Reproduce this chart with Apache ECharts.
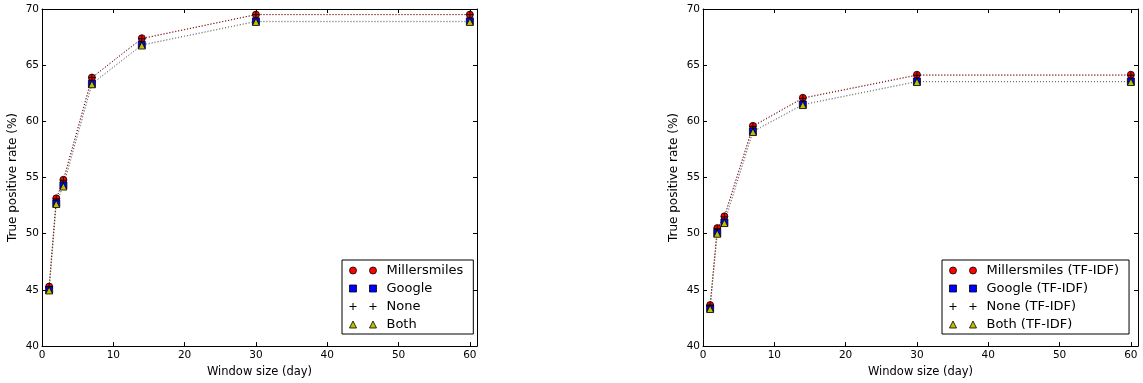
<!DOCTYPE html>
<html>
<head>
<meta charset="utf-8">
<script src="https://cdn.jsdelivr.net/npm/echarts@6/dist/echarts.min.js"></script>
<style>
  html, body { margin: 0; padding: 0; background: #fff; }
  #chart { width: 1143px; height: 383px; }
</style>
</head>
<body>
<div id="chart"></div>
<script>
// window sizes (days)
const windowDays = [1, 2, 3, 7, 14, 30, 60];
const xTicks = [0, 10, 20, 30, 40, 50, 60];

// left panel
const millersmiles = [45.3, 53.15, 54.8, 63.9, 67.4, 69.5, 69.5];
const google = [45.0, 52.7, 54.3, 63.35, 66.8, 68.9, 68.9];
const none = [45.3, 53.1, 54.75, 63.9, 67.35, 69.5, 69.5];
const both = [44.95, 52.65, 54.2, 63.3, 66.75, 68.85, 68.85];

// right panel (TF-IDF)
const millersmilesTfidf = [43.65, 50.5, 51.55, 59.6, 62.1, 64.15, 64.15];
const googleTfidf = [43.35, 50.05, 51.0, 59.1, 61.5, 63.55, 63.55];
const noneTfidf = [43.6, 50.45, 51.5, 59.55, 62.05, 64.1, 64.1];
const bothTfidf = [43.3, 50.0, 50.95, 59.05, 61.45, 63.5, 63.5];

const font = 'DejaVu Sans';

const styles = [
    { color: '#ff0000', symbol: 'circle', size: 7,
      icon: 'path://M0,3.5A3.5,3.5 0 1 1 7,3.5A3.5,3.5 0 1 1 0,3.5Z M20,3.5A3.5,3.5 0 1 1 27,3.5A3.5,3.5 0 1 1 20,3.5Z' },
    { color: '#0000ff', symbol: 'rect', size: 7,
      icon: 'path://M0,0H7V7H0Z M20,0H27V7H20Z' },
    { color: '#000000', symbol: 'path://M0,5H10M5,0V10', size: 7, plus: true,
      icon: 'path://M0,3.5H7M3.5,0V7 M20,3.5H27M23.5,0V7' },
    { color: '#bfbf00', symbol: 'triangle', size: 7,
      icon: 'path://M3.5,0L7,7L0,7Z M23.5,0L27,7L20,7Z' }
];

function makeSeries(name, values, st, axisIdx) {
    return {
        type: 'line',
        name: name,
        xAxisIndex: axisIdx,
        yAxisIndex: axisIdx,
        data: windowDays.map((d, i) => [d, values[i]]),
        symbol: st.symbol,
        symbolSize: st.size,
        showSymbol: true,
        animation: false,
        lineStyle: { color: st.color, width: 1, type: [1, 2], opacity: 0.8 },
        itemStyle: {
            color: st.plus ? 'none' : st.color,
            borderColor: '#000',
            borderWidth: st.plus ? 1 : 0.8,
            opacity: 1
        },
        emphasis: { disabled: true }
    };
}

function xAxes(gridIndex, bottom) {
    return {
        type: 'value',
        gridIndex: gridIndex,
        position: bottom ? 'bottom' : 'top',
        min: 0,
        max: 61,
        name: bottom ? 'Window size (day)' : '',
        nameLocation: 'middle',
        nameGap: 15,
        nameTextStyle: { fontFamily: font, fontSize: 11.5, color: '#000' },
        axisLine: { show: true, onZero: false, lineStyle: { color: '#000', width: 1 } },
        axisTick: { show: true, inside: true, length: 4, customValues: xTicks,
                    lineStyle: { color: '#000' } },
        axisLabel: { show: bottom, customValues: xTicks, margin: 4,
                     fontFamily: font, fontSize: 10.5, color: '#000' },
        splitLine: { show: false }
    };
}

function yAxes(gridIndex, left) {
    return {
        type: 'value',
        gridIndex: gridIndex,
        position: left ? 'left' : 'right',
        min: 40,
        max: 70,
        interval: 5,
        name: left ? 'True positive rate (%)' : '',
        nameLocation: 'middle',
        nameGap: 23,
        nameRotate: 90,
        nameTextStyle: { fontFamily: font, fontSize: 12, color: '#000' },
        axisLine: { show: true, onZero: false, lineStyle: { color: '#000', width: 1 } },
        axisTick: { show: true, inside: true, length: 4, lineStyle: { color: '#000' } },
        axisLabel: { show: left, margin: 3, fontFamily: font, fontSize: 10.5, color: '#000' },
        splitLine: { show: false }
    };
}

function makeLegend(names, left, top, width) {
    return {
        orient: 'vertical',
        left: left,
        top: top,
        width: width,
        padding: [4, 10, 3, 5],
        itemGap: 5,
        itemWidth: 27,
        itemHeight: 7,
        borderColor: '#000',
        borderWidth: 1,
        backgroundColor: '#fff',
        selectedMode: false,
        textStyle: { fontFamily: font, fontSize: 13, color: '#000', padding: [0, 0, 0, 5] },
        data: names.map((n, i) => ({
            name: n,
            icon: styles[i].icon,
            itemStyle: {
                color: styles[i].plus ? 'none' : styles[i].color,
                borderColor: '#000',
                borderWidth: styles[i].plus ? 1 : 0.8
            }
        }))
    };
}

const leftNames = ['Millersmiles', 'Google', 'None', 'Both'];
const rightNames = ['Millersmiles (TF-IDF)', 'Google (TF-IDF)', 'None (TF-IDF)', 'Both (TF-IDF)'];
const leftData = [millersmiles, google, none, both];
const rightData = [millersmilesTfidf, googleTfidf, noneTfidf, bothTfidf];

const chart = echarts.init(document.getElementById('chart'));
const option = {
    backgroundColor: '#fff',
    animation: false,
    grid: [
        { left: 42, top: 9, width: 435, height: 339 },
        { left: 703, top: 9, width: 435, height: 339 }
    ],
    xAxis: [xAxes(0, true), xAxes(0, false), xAxes(1, true), xAxes(1, false)],
    yAxis: [yAxes(0, true), yAxes(0, false), yAxes(1, true), yAxes(1, false)],
    legend: [
        makeLegend(leftNames, 342, 260, 132),
        makeLegend(rightNames, 942, 260, 191)
    ],
    series: [
        ...leftNames.map((n, i) => makeSeries(n, leftData[i], styles[i], 0)),
        ...rightNames.map((n, i) => makeSeries(n, rightData[i], styles[i], 2))
    ]
};
chart.setOption(option);
</script>
</body>
</html>
